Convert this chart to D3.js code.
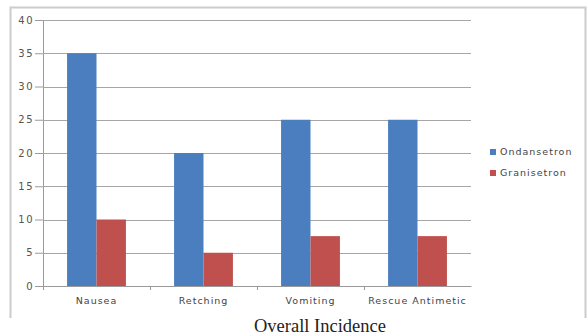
<!DOCTYPE html>
<html>
<head>
<meta charset="utf-8">
<script src="https://cdn.jsdelivr.net/npm/d3@7"></script>
<style>
  html, body { margin: 0; padding: 0; background: #fff; }
  svg { display: block; }
</style>
</head>
<body>
<svg id="chart" width="587" height="335"></svg>
<script>
// Incidence (%) per outcome for each drug
const categories = ["Nausea", "Retching", "Vomiting", "Rescue Antimetic"];
const seriesNames = ["Ondansetron", "Granisetron"];
const ondansetron = [35, 20, 25, 25];
const granisetron = [10, 5, 7.5, 7.5];
const yTicks = [0, 5, 10, 15, 20, 25, 30, 35, 40];
const colors = ["#4a7ebf", "#c0504d"];

const svg = d3.select("#chart");
const plot = { left: 43, right: 471, top: 20, bottom: 286 };
const labelFont = "DejaVu Sans, sans-serif";

// outer frame (open at the bottom)
svg.append("path")
  .attr("d", "M10.5,318 L10.5,7.5 L585.5,7.5 L585.5,318")
  .attr("fill", "none")
  .attr("stroke", "#cccccc")
  .attr("stroke-width", 2);

const x0 = d3.scaleBand().domain(categories).range([plot.left, plot.right])
  .paddingInner(0.45).paddingOuter(0.225);
const x1 = d3.scaleBand().domain(seriesNames).range([0, x0.bandwidth()]).padding(0);
const y = d3.scaleLinear().domain([0, 40]).range([plot.bottom, plot.top]);

// y axis with tick labels
const yAxis = d3.axisLeft(y).tickValues(yTicks).tickSize(8).tickPadding(1);
const gy = svg.append("g").attr("transform", `translate(${plot.left},0)`).call(yAxis);
gy.select(".domain").attr("stroke", "#9a9a9a");
gy.selectAll(".tick line").attr("stroke", "#9a9a9a");
gy.selectAll(".tick text")
  .attr("font-family", labelFont)
  .attr("font-size", 10)
  .attr("letter-spacing", 1.5)
  .attr("fill", "#555");

// horizontal gridlines
svg.append("g").selectAll("line")
  .data(yTicks.filter(v => v > 0))
  .join("line")
  .attr("x1", plot.left).attr("x2", plot.right)
  .attr("y1", d => Math.round(y(d)) + 0.5).attr("y2", d => Math.round(y(d)) + 0.5)
  .attr("stroke", "#a6a6a6").attr("stroke-width", 1);

// bars
const rows = categories.map((c, i) => ({ cat: c, vals: [ondansetron[i], granisetron[i]] }));
svg.append("g").selectAll("g")
  .data(rows)
  .join("g")
  .attr("transform", d => `translate(${x0(d.cat)},0)`)
  .selectAll("rect")
  .data(d => d.vals.map((v, j) => ({ name: seriesNames[j], v, j })))
  .join("rect")
  .attr("x", d => x1(d.name))
  .attr("width", x1.bandwidth())
  .attr("y", d => y(d.v))
  .attr("height", d => y(0) - y(d.v))
  .attr("fill", d => colors[d.j]);

// x axis
const xAxis = d3.axisBottom(x0).tickSize(0).tickPadding(11);
const gx = svg.append("g").attr("transform", `translate(0,${plot.bottom})`).call(xAxis);
gx.select(".domain").attr("stroke", "#9a9a9a");
gx.selectAll(".tick text")
  .attr("font-family", labelFont)
  .attr("font-size", 9.5)
  .attr("letter-spacing", 1)
  .attr("fill", "#444");
// separators between categories
const step = x0.step();
svg.append("g").selectAll("line")
  .data(d3.range(categories.length))
  .join("line")
  .attr("x1", i => plot.left + i * step + 0.5).attr("x2", i => plot.left + i * step + 0.5)
  .attr("y1", plot.bottom).attr("y2", plot.bottom + 4)
  .attr("stroke", "#9a9a9a");

// legend
const legend = svg.append("g").attr("transform", "translate(490,152)");
seriesNames.forEach((name, i) => {
  const g = legend.append("g").attr("transform", `translate(0,${i * 21})`);
  g.append("rect").attr("x", 0).attr("y", -3).attr("width", 6).attr("height", 6).attr("fill", colors[i]);
  g.append("text").attr("x", 10).attr("y", 0).attr("dy", "0.35em")
    .attr("font-family", labelFont)
    .attr("font-size", 9.5).attr("letter-spacing", 1)
    .attr("fill", "#444").text(name);
});

// x-axis title
svg.append("text")
  .attr("x", 320).attr("y", 332)
  .attr("text-anchor", "middle")
  .attr("font-family", "Liberation Serif, Times New Roman, serif")
  .attr("font-size", 18.5).attr("fill", "#222")
  .text("Overall Incidence");
</script>
</body>
</html>
